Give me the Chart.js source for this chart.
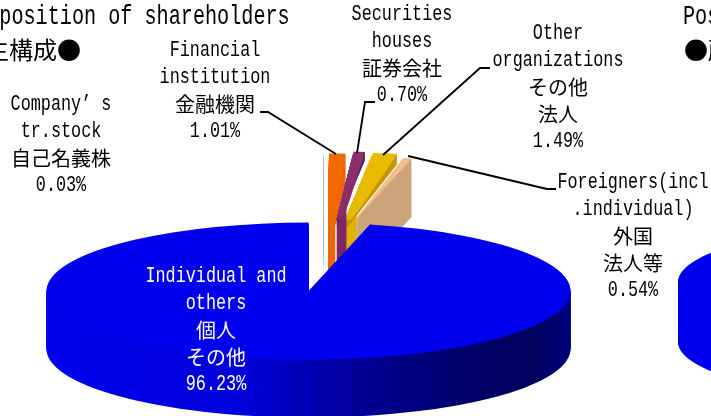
<!DOCTYPE html>
<html>
<head>
<meta charset="utf-8">
<script src="https://cdn.jsdelivr.net/npm/chart.js@4"></script>
<style>
html, body { margin: 0; padding: 0; background: #fff; overflow: hidden; }
#wrap { position: relative; width: 711px; height: 416px; overflow: hidden; }
canvas { position: absolute; left: 0; top: 0; }
</style>
</head>
<body>
<div id="wrap">
  <canvas id="nextPie" width="711" height="416"></canvas>
  <canvas id="mainPie" width="711" height="416"></canvas>
</div>
<script>
// shareholder groups, clockwise from 12 o'clock
const categories = ["Company's tr.stock", "Financial institution", "Securities houses", "Other organizations", "Foreigners", "Individual and others"];
const shares = [0.03, 1.01, 0.70, 1.49, 0.54, 96.23];
const nextPieShares = [100];

const topColors = ["#a8bdbd", "#f26a00", "#8a2e6e", "#e9ba00", "#f0c08c", "#0000ee"];
const rimColors = ["#a8bdbd", "#ec6800", "#5f2050", "#c49600", "#cda47a", "#0000ee"];
const columnColors = [null, "#ec6800", "#7d2a66", "#e2b200", null, null];
// how far each small slice is pulled out of the pie
const shiftX = [15, 20, 28, 36, 42, 0];
const shiftY = [-68, -69, -71, -70, -66, 0];
// layers that keep the full slice outline, below them only a narrow column under the tip
const fullLayers = [58, 30, 8, 10, 58, 58];
const drawOrder = [0, 4, 3, 1, 2, 5];

const labelLines = [
    ["Company’ s", "tr.stock", "自己名義株"],
    ["Financial", "institution", "金融機関"],
    ["Securities", "houses", "証券会社"],
    ["Other", "organizations", "その他", "法人"],
    ["Foreigners(incl", ".individual)", "外国", "法人等"],
    ["Individual and", "others", "個人", "その他"]
];
const labelX = [61, 215, 402, 558, 633, 216];
const labelY = [104, 50, 14, 33, 182, 276];
const leaders = [
    null,
    [[260, 112], [268, 112], [336, 154]],
    [[357, 153], [365, 102], [375, 102]],
    [[383, 155], [480, 68], [490, 68]],
    [[408, 156], [547, 189], [556, 189]],
    null
];

const latin = "'Liberation Mono', monospace";
const cjk = "'Noto Sans CJK JP', sans-serif";

function putText(ctx, text, x, y, size, color, align) {
    const isCjk = /[\u3000-\u9fff]/.test(text);
    ctx.save();
    ctx.fillStyle = color;
    ctx.textBaseline = "middle";
    ctx.textAlign = align || "center";
    ctx.translate(x, y);
    if (isCjk) {
        ctx.font = size + "px " + cjk;
    } else {
        ctx.font = (size * 1.14) + "px " + latin;
        ctx.scale(0.737, 1);
    }
    ctx.fillText(text, 0, 0);
    ctx.restore();
}

// squashes the flat pie and stacks it to get the tilted look
function tiltPlugin(geo) {
    return {
        id: "tilt",
        beforeDatasetsDraw(chart) {
            const ctx = chart.ctx;
            const arcs = chart.getDatasetMeta(0).data;
            const order = geo.order || arcs.map((a, i) => i);
            order.forEach(i => {
                const arc = arcs[i];
                const sx = geo.rx / arc.outerRadius;
                const sy = geo.ry / arc.outerRadius;
                const paint = (lift, fill, patch) => {
                    const view = Object.create(arc);
                    view.options = Object.assign({}, arc.options, { backgroundColor: fill });
                    Object.assign(view, patch);
                    ctx.save();
                    ctx.translate(geo.cx + (geo.dx[i] || 0), geo.cy + (geo.dy[i] || 0) + lift);
                    ctx.scale(sx, sy);
                    ctx.translate(-arc.x, -arc.y);
                    arc.draw.call(view, ctx);
                    ctx.restore();
                };
                let rim = geo.rim[i];
                if (geo.shaded === i) {
                    rim = ctx.createLinearGradient(arc.x - arc.outerRadius, 0, arc.x + arc.outerRadius, 0);
                    rim.addColorStop(0, "#0000ee");
                    rim.addColorStop(0.38, "#0000d8");
                    rim.addColorStop(0.58, "#00009c");
                    rim.addColorStop(0.78, "#00006c");
                    rim.addColorStop(0.92, "#00005c");
                    rim.addColorStop(1, "#00007c");
                }
                const span = arc.endAngle - arc.startAngle;
                const columnColor = geo.column && geo.column[i];
                if (columnColor) {
                    const column = {
                        outerRadius: arc.outerRadius * 0.2,
                        endAngle: arc.startAngle + 0.134,
                        circumference: 0.134
                    };
                    for (let d = geo.depth; d >= 1; d--) paint(d, columnColor, column);
                }
                const full = geo.full ? geo.full[i] : geo.depth;
                for (let d = full; d >= 1; d--) paint(d, rim);
                if (columnColor) {
                    // widen the sector near the centre so its tip is about 7px across
                    const tipWidth = 7 / geo.rx;
                    for (let t = 0.04; t < 1; t += 0.02) {
                        const a = (span * t + tipWidth * (1 - t)) / t;
                        paint(0, geo.top[i], {
                            outerRadius: arc.outerRadius * t,
                            endAngle: arc.startAngle + a,
                            circumference: a
                        });
                    }
                }
                paint(0, geo.top[i]);
            });
            return false;
        }
    };
}

const labelPlugin = {
    id: "labels",
    afterDraw(chart) {
        const ctx = chart.ctx;
        ctx.save();
        ctx.strokeStyle = "#000";
        ctx.lineWidth = 1.8;
        leaders.forEach(pts => {
            if (!pts) return;
            ctx.beginPath();
            pts.forEach((p, k) => k ? ctx.lineTo(p[0], p[1]) : ctx.moveTo(p[0], p[1]));
            ctx.stroke();
        });
        ctx.restore();

        labelLines.forEach((lines, i) => {
            const color = i === 5 ? "#fff" : "#000";
            const rows = lines.concat(shares[i].toFixed(2) + "%");
            rows.forEach((t, k) => putText(ctx, t, labelX[i], labelY[i] + k * 27, 20, color));
        });

        putText(ctx, "Composition of shareholders", -37, 17, 24, "#000", "left");
        putText(ctx, "株主構成●", 81, 50, 24, "#000", "right");
        putText(ctx, "Position", 683, 17, 24, "#000", "left");
        putText(ctx, "●所有者別", 684, 50, 24, "#000", "left");
    }
};

function makePie(id, labels, values, colors, geo, extra) {
    return new Chart(document.getElementById(id).getContext("2d"), {
        type: "pie",
        data: {
            labels: labels,
            datasets: [{ data: values, backgroundColor: colors, borderWidth: 0 }]
        },
        options: {
            responsive: false,
            animation: false,
            events: [],
            plugins: { legend: { display: false }, tooltip: { enabled: false } }
        },
        plugins: [tiltPlugin(geo)].concat(extra)
    });
}

makePie("nextPie", ["Individual and others"], nextPieShares, ["#0000ee"], {
    cx: 940, cy: 282, rx: 262, ry: 60, depth: 60,
    dx: [0], dy: [0], top: ["#0000ee"], rim: ["#0000ee"]
}, []);

makePie("mainPie", categories, shares, topColors, {
    cx: 308.5, cy: 291, rx: 262, ry: 68.5, depth: 58,
    dx: shiftX, dy: shiftY, top: topColors, rim: rimColors, column: columnColors,
    full: fullLayers, order: drawOrder, shaded: 5
}, [labelPlugin]);
</script>
</body>
</html>
